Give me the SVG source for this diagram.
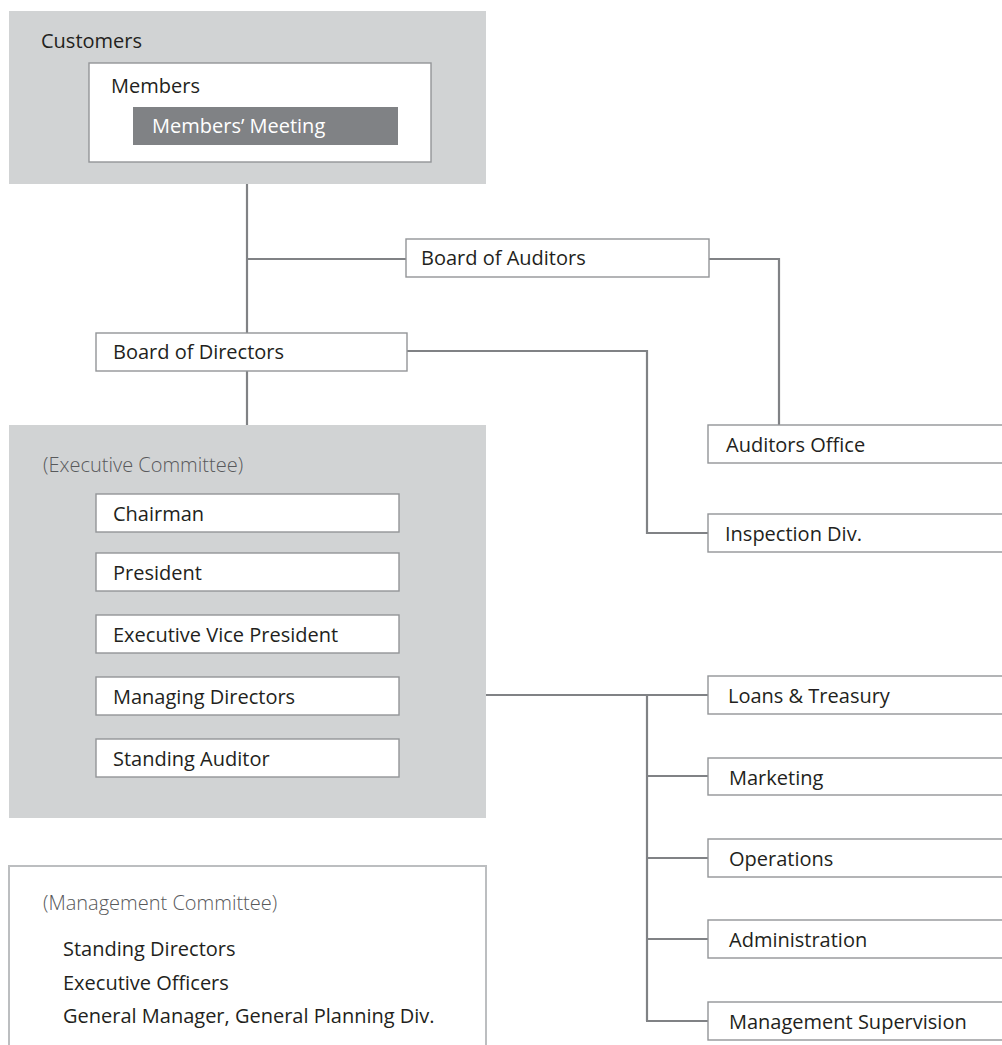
<svg xmlns="http://www.w3.org/2000/svg" width="1002" height="1045" viewBox="0 0 1002 1045">
<style>
text{font-family:"Open Sans","Noto Sans","Liberation Sans",sans-serif;font-size:20px;fill:#231f20}
.panel{fill:#d1d3d4}
.box{fill:#fff;stroke:#939598;stroke-width:1.4}
.light{font-weight:300;fill:#58595b}
.conn{fill:none;stroke:#808285;stroke-width:2.2}
</style>
<rect width="1002" height="1045" fill="#fff"/>
<g id="customers">
<rect class="panel" x="9" y="11" width="477" height="173"/>
<text x="41" y="48">Customers</text>
</g>
<g id="members">
<rect class="box" x="89" y="63" width="342" height="99"/>
<text x="111" y="93">Members</text>
</g>
<g id="members-meeting">
<rect x="133" y="107" width="265" height="38" fill="#808285"/>
<text x="152" y="133" style="fill:#fff">Members’ Meeting</text>
</g>
<g id="connectors">
<line class="conn" x1="247" y1="184" x2="247" y2="425"/>
<line class="conn" x1="247" y1="259" x2="406" y2="259"/>
<polyline class="conn" points="709,259 779,259 779,425"/>
<polyline class="conn" points="407,351 647,351 647,533 708,533"/>
<line class="conn" x1="486" y1="695" x2="708" y2="695"/>
<line class="conn" x1="647" y1="695" x2="647" y2="1021"/>
<line class="conn" x1="646" y1="776" x2="708" y2="776"/>
<line class="conn" x1="646" y1="858" x2="708" y2="858"/>
<line class="conn" x1="646" y1="939" x2="708" y2="939"/>
<line class="conn" x1="646" y1="1021" x2="708" y2="1021"/>
</g>
<g id="board-of-auditors">
<rect class="box" x="406" y="239" width="303" height="38"/>
<text x="421" y="265">Board of Auditors</text>
</g>
<g id="board-of-directors">
<rect class="box" x="96" y="333" width="311" height="38"/>
<text x="113" y="359">Board of Directors</text>
</g>
<g id="executive-committee">
<rect class="panel" x="9" y="425" width="477" height="393"/>
<text class="light" x="43" y="472">(Executive Committee)</text>
</g>
<g id="chairman">
<rect class="box" x="96" y="494" width="303" height="38"/>
<text x="113" y="521">Chairman</text>
</g>
<g id="president">
<rect class="box" x="96" y="553" width="303" height="38"/>
<text x="113" y="580">President</text>
</g>
<g id="executive-vice-president">
<rect class="box" x="96" y="615" width="303" height="38"/>
<text x="113" y="642">Executive Vice President</text>
</g>
<g id="managing-directors">
<rect class="box" x="96" y="677" width="303" height="38"/>
<text x="113" y="704">Managing Directors</text>
</g>
<g id="standing-auditor">
<rect class="box" x="96" y="739" width="303" height="38"/>
<text x="113" y="766">Standing Auditor</text>
</g>
<g id="management-committee">
<rect x="9" y="866" width="477" height="200" fill="#fff" stroke="#bcbec0" stroke-width="2"/>
<text class="light" x="43" y="910">(Management Committee)</text>
<text x="63" y="956">Standing Directors</text>
<text x="63" y="990">Executive Officers</text>
<text x="63" y="1023">General Manager, General Planning Div.</text>
</g>
<g id="auditors-office">
<rect class="box" x="708" y="425" width="320" height="38"/>
<text x="726" y="452">Auditors Office</text>
</g>
<g id="inspection-div">
<rect class="box" x="708" y="514" width="320" height="38"/>
<text x="725" y="541">Inspection Div.</text>
</g>
<g id="loans-treasury">
<rect class="box" x="708" y="676" width="320" height="38"/>
<text x="728" y="703">Loans &amp; Treasury</text>
</g>
<g id="marketing">
<rect class="box" x="708" y="758" width="320" height="37"/>
<text x="729" y="785">Marketing</text>
</g>
<g id="operations">
<rect class="box" x="708" y="839" width="320" height="38"/>
<text x="729" y="866">Operations</text>
</g>
<g id="administration">
<rect class="box" x="708" y="920" width="320" height="38"/>
<text x="729" y="947">Administration</text>
</g>
<g id="management-supervision">
<rect class="box" x="708" y="1002" width="320" height="38"/>
<text x="729" y="1029">Management Supervision</text>
</g>
</svg>
